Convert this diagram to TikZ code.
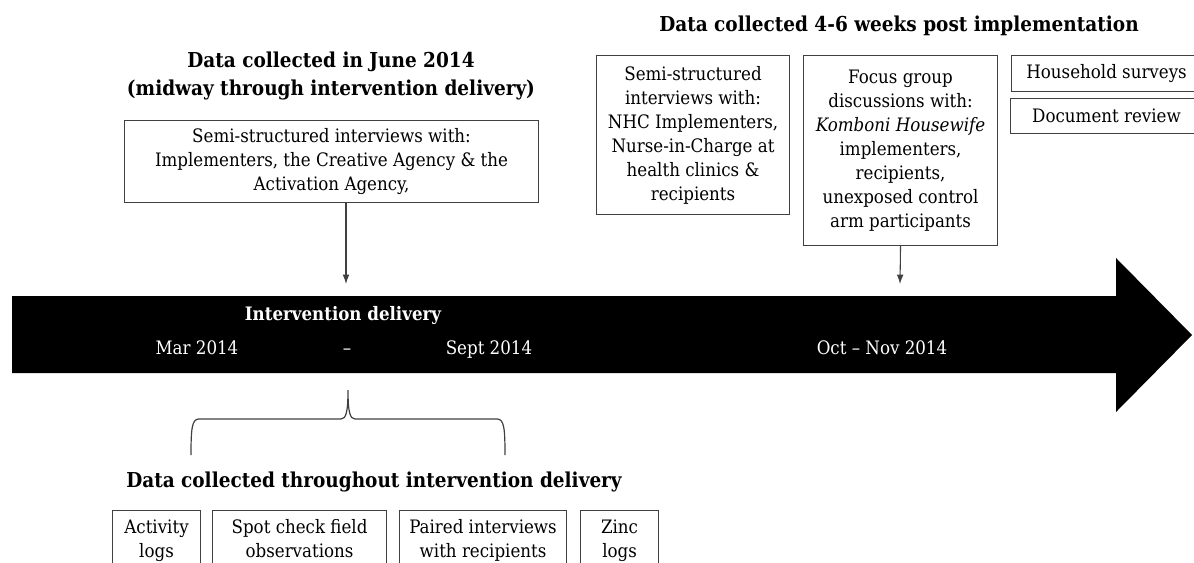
\documentclass[tikz,border=0pt]{standalone}
\usepackage{fontspec}
\setmainfont{DejaVu Serif Condensed}
\usepackage{tikz}
\usetikzlibrary{calc, arrows.meta, positioning}
\definecolor{mainBlack}{gray}{0.0}
\definecolor{lineGray}{gray}{0.25}
\begin{document}
\begin{tikzpicture}[x=0.75pt, y=-0.75pt,
    every node/.style={font=\fontsize{13.9}{18}\selectfont},
    databox/.style={draw=lineGray, line width=0.8pt, align=center, inner sep=0pt, anchor=north west},
    headline/.style={font=\fontsize{15.4}{21}\selectfont\bfseries, align=center},
    bartext/.style={text=white, text height=10pt, text depth=3pt}]
        \useasboundingbox (0,0) rectangle (1194,563);
        \clip (0,0) rectangle (1194,563);

        % timeline arrow
        \fill[mainBlack] (12,296) -- (1116,296) -- (1116,258) -- (1192,335) -- (1116,412) -- (1116,373) -- (12,373) -- cycle;
        \node[bartext, font=\fontsize{13.9}{18}\selectfont\bfseries] (deliv) at (343,316) {Intervention delivery};
        \node[bartext] (mar) at (197,350) {Mar 2014};
        \node[bartext] (dash) at (347,350) {--};
        \node[bartext] (sept) at (489,350) {Sept 2014};
        \node[bartext] (octnov) at (882,350) {Oct -- Nov 2014};

        % June 2014
        \node[headline] (juneHead) at (331,76) {Data collected in June 2014\\(midway through intervention delivery)};
        \node[databox, minimum width=414*0.75pt, minimum height=82*0.75pt] (juneBox) at (124,120)
            {Semi-structured interviews with:\\Implementers, the Creative Agency \& the\\Activation Agency,};
        \coordinate (juneTip) at (346,284);
        \draw[-{Latex[length=7pt,width=5pt]}, lineGray, line width=0.8pt] (juneBox.south -| juneTip) -- (juneTip);

        % post implementation
        \node[headline] (postHead) at (899,26) {Data collected 4-6 weeks post implementation};
        \node[databox, minimum width=193*0.75pt, minimum height=159*0.75pt] (semiBox) at (596,55)
            {Semi-structured\\interviews with:\\NHC Implementers,\\Nurse-in-Charge at\\health clinics \&\\recipients};
        \node[databox, minimum width=194*0.75pt, minimum height=190*0.75pt] (focusBox) at (803,55)
            {Focus group\\discussions with:\\\textit{Komboni Housewife}\\implementers,\\recipients,\\unexposed control\\arm participants};
        \node[databox, minimum width=190*0.75pt, minimum height=36*0.75pt] (houseBox) at (1011,55) {Household surveys};
        \node[databox, minimum width=192*0.75pt, minimum height=35*0.75pt] (docBox) at (1010,98) {Document review};
        \coordinate (focusTip) at (900,284);
        \draw[-{Latex[length=7pt,width=5pt]}, lineGray, line width=0.8pt] (focusBox.south) -- (focusTip);

        % throughout delivery
        \draw[lineGray, line width=0.9pt] (191,455) .. controls (191,428) and (192,419) .. (199,419) -- (341,419)
            .. controls (346,419) and (348,412) .. (348,390) .. controls (348,412) and (350,419) .. (355,419)
            -- (497,419) .. controls (504,419) and (505,428) .. (505,455);
        \node[headline] (thruHead) at (374,482) {Data collected throughout intervention delivery};
        \foreach \x/\w/\name/\txt in {112/88/actBox/{Activity\\logs},
                                      212/174/spotBox/{Spot check field\\observations},
                                      399/167/pairBox/{Paired interviews\\with recipients},
                                      580/78/zincBox/{Zinc\\logs}} {
            \node[databox, text depth=4pt, minimum width=\w*0.75pt, minimum height=62*0.75pt] (\name) at (\x,510) {\txt};
        }
    \end{tikzpicture}
\end{document}
